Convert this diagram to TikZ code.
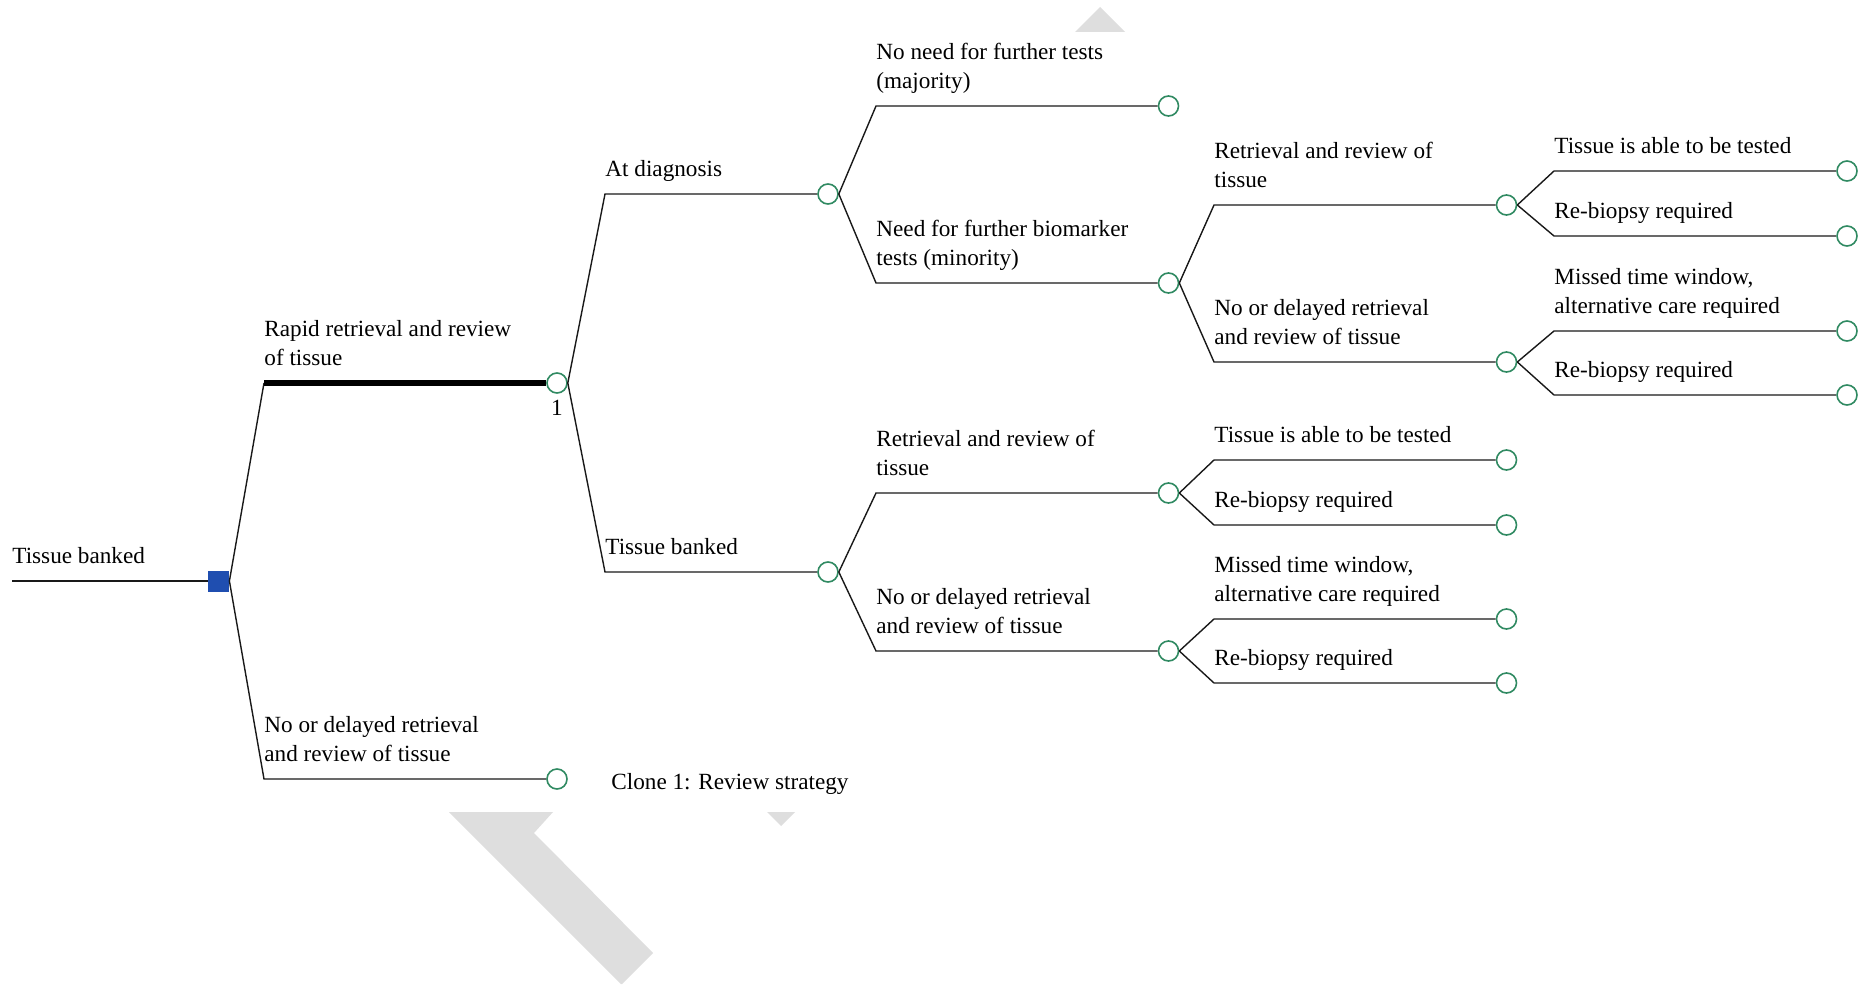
\documentclass[tikz,border=0pt]{standalone}
\usepackage{fontspec}
\setmainfont{Liberation Serif}
\definecolor{cgreen}{RGB}{48,138,98}
\definecolor{dblue}{RGB}{31,78,176}
\definecolor{wmgrey}{RGB}{222,222,222}
\begin{document}
\begin{tikzpicture}[x=0.5pt,y=-0.5pt,
  chance/.style={circle,draw=cgreen,line width=0.8pt,minimum size=10pt,inner sep=0pt,fill=white},
  decis/.style={rectangle,fill=dblue,minimum size=10.5pt,inner sep=0pt},
  lnk/.style={line width=0.7pt,black!90},
  hot/.style={line width=3pt,black},
  lbl/.style={anchor=south west,inner sep=0pt,align=left,text depth=0pt,font=\fontsize{11.6pt}{14.6pt}\selectfont},
  plain/.style={inner sep=0pt,font=\fontsize{11.6pt}{14.6pt}\selectfont},
  wm/.style={fill=wmgrey,draw=none}
]
\useasboundingbox (0,0) rectangle (1866,984);
\fill[white] (0,0) rectangle (1866,984);
% watermark fragments
\fill[wm] (1075,32) -- (1100,7) -- (1125,32) -- cycle;
\fill[wm] (449,812) -- (553,812) -- (534,833) -- (653,953) -- (622,984) -- (621,984) -- cycle;
\fill[wm] (767,812) -- (795,812) -- (781,826) -- cycle;

% nodes
\coordinate (r0) at (12,581);
\node[decis] (D) at (218.5,581) {};
\node[chance] (C1) at (557,383) {};
\node[chance] (C2) at (557,779) {};
\node[chance] (C3) at (828,194) {};
\node[chance] (C4) at (828,572) {};
\node[chance] (C5) at (1168.5,106) {};
\node[chance] (C6) at (1168.5,283) {};
\node[chance] (C7) at (1506.5,205) {};
\node[chance] (C8) at (1506.5,362) {};
\node[chance] (T1) at (1847,171) {};
\node[chance] (T2) at (1847,236) {};
\node[chance] (T3) at (1847,331) {};
\node[chance] (T4) at (1847,395) {};
\node[chance] (C9) at (1168.5,493) {};
\node[chance] (C10) at (1168.5,651) {};
\node[chance] (T5) at (1506.5,460) {};
\node[chance] (T6) at (1506.5,525) {};
\node[chance] (T7) at (1506.5,619) {};
\node[chance] (T8) at (1506.5,683) {};

% corners
\coordinate (k1) at (264,383);
\coordinate (k2) at (264,779);
\coordinate (k3) at (605,194);
\coordinate (k4) at (605,572);
\coordinate (k5) at (876,106);
\coordinate (k6) at (876,283);
\coordinate (k7) at (1214,205);
\coordinate (k8) at (1214,362);
\coordinate (j1) at (1554,171);
\coordinate (j2) at (1554,236);
\coordinate (j3) at (1554,331);
\coordinate (j4) at (1554,395);
\coordinate (k9) at (876,493);
\coordinate (k10) at (876,651);
\coordinate (j5) at (1214,460);
\coordinate (j6) at (1214,525);
\coordinate (j7) at (1214,619);
\coordinate (j8) at (1214,683);

% connectors
\draw[lnk] (r0) -- (D.west);
\draw[lnk] (D.east) -- (k1);
\draw[hot] (k1) -- (C1.west);
\draw[lnk] (D.east) -- (k2) -- (C2.west);
\draw[lnk] (C1.east) -- (k3) -- (C3.west);
\draw[lnk] (C1.east) -- (k4) -- (C4.west);
\draw[lnk] (C3.east) -- (k5) -- (C5.west);
\draw[lnk] (C3.east) -- (k6) -- (C6.west);
\draw[lnk] (C6.east) -- (k7) -- (C7.west);
\draw[lnk] (C6.east) -- (k8) -- (C8.west);
\draw[lnk] (C7.east) -- (j1) -- (T1.west);
\draw[lnk] (C7.east) -- (j2) -- (T2.west);
\draw[lnk] (C8.east) -- (j3) -- (T3.west);
\draw[lnk] (C8.east) -- (j4) -- (T4.west);
\draw[lnk] (C4.east) -- (k9) -- (C9.west);
\draw[lnk] (C4.east) -- (k10) -- (C10.west);
\draw[lnk] (C9.east) -- (j5) -- (T5.west);
\draw[lnk] (C9.east) -- (j6) -- (T6.west);
\draw[lnk] (C10.east) -- (j7) -- (T7.west);
\draw[lnk] (C10.east) -- (j8) -- (T8.west);

% labels
\node[lbl] (L0) at (12,564) {Tissue banked};
\node[lbl] (L1) at (264,366) {Rapid retrieval and review\\of tissue};
\node[lbl] (L2) at (264,762) {No or delayed retrieval\\and review of tissue};
\node[lbl] (L3) at (605,177) {At diagnosis};
\node[lbl] (L4) at (605,555) {Tissue banked};
\node[lbl] (L5) at (876,89) {No need for further tests\\(majority)};
\node[lbl] (L6) at (876,266) {Need for further biomarker\\tests (minority)};
\node[lbl] (L7) at (1214,188) {Retrieval and review of\\tissue};
\node[lbl] (L8) at (1214,345) {No or delayed retrieval\\and review of tissue};
\node[lbl] (M1) at (1554,154) {Tissue is able to be tested};
\node[lbl] (M2) at (1554,219) {Re-biopsy required};
\node[lbl] (M3) at (1554,314) {Missed time window,\\alternative care required};
\node[lbl] (M4) at (1554,378) {Re-biopsy required};
\node[lbl] (L9) at (876,476) {Retrieval and review of\\tissue};
\node[lbl] (L10) at (876,634) {No or delayed retrieval\\and review of tissue};
\node[lbl] (M5) at (1214,443) {Tissue is able to be tested};
\node[lbl] (M6) at (1214,508) {Re-biopsy required};
\node[lbl] (M7) at (1214,602) {Missed time window,\\alternative care required};
\node[lbl] (M8) at (1214,666) {Re-biopsy required};
\node[plain] (one) at (557,408) {1};
\node[plain,anchor=base west] (clone) at (611,789) {Clone 1: Review strategy};
\end{tikzpicture}
\end{document}
